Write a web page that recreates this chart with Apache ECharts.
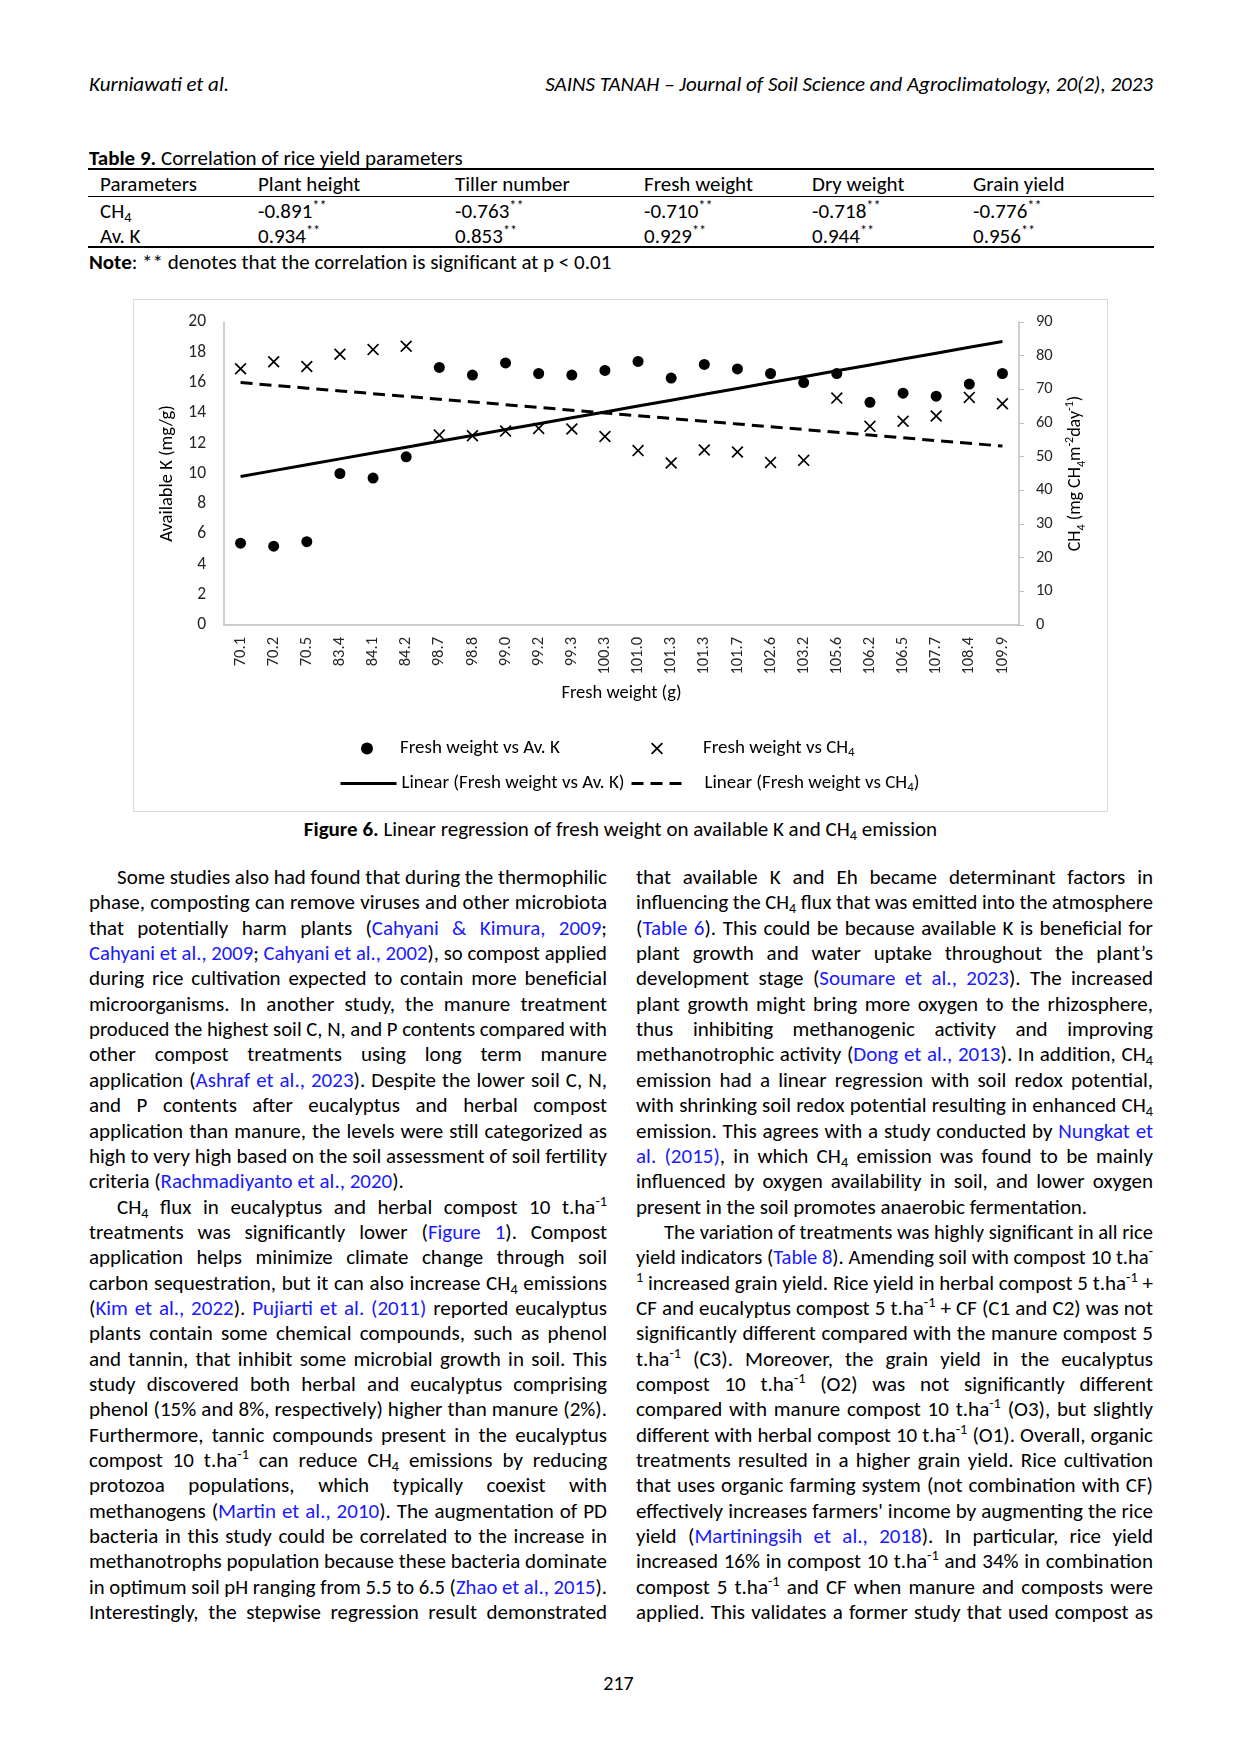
<!DOCTYPE html>
<html>
<head>
<meta charset="UTF-8">
<title>Figure 6 - fresh weight vs available K and CH4</title>
<script src="https://cdn.jsdelivr.net/npm/echarts@6.0.0/dist/echarts.min.js"></script>
<style>
  html, body { margin: 0; padding: 0; background: #fff; }
  body { width: 1241px; height: 1754px; position: relative; overflow: hidden;
         font-family: Carlito, Lato, 'Noto Sans', sans-serif; color: #000; }
  .abs { position: absolute; white-space: nowrap; }
  sub, sup { font-size: 0.68em; line-height: 0; }
  sub { vertical-align: -0.25em; }
  sup { vertical-align: 0.55em; }
  a { color: #1a1aff; text-decoration: none; }
  .head { top: 71px; font-size: 21px; font-style: italic; line-height: 26px; }
  .tbl { font-size: 21px; line-height: 24px; }
  .rule { position: absolute; left: 88px; width: 1066px; background: #000; }
  .line { position: absolute; height: 25px; line-height: 25px; font-size: 21px; white-space: nowrap; }
  .line span.t { display: inline-block; transform-origin: 0 50%; }
  #chart { position: absolute; left: 133px; top: 299px; width: 975px; height: 513px;
           border: 1px solid #d9d9d9; box-sizing: border-box; }
</style>
</head>
<body>

<div class="abs head" style="left:89px">Kurniawati et al.</div>
<div class="abs head" style="right:88px">SAINS TANAH &ndash; Journal of Soil Science and Agroclimatology, 20(2), 2023</div>

<div class="abs tbl" style="left:89px;top:146px"><b>Table 9.</b> Correlation of rice yield parameters</div>
<div class="rule" style="top:168px;height:2px"></div>
<div class="rule" style="top:196px;height:1px"></div>
<div class="rule" style="top:246px;height:2px"></div>
<div id="table"></div>
<div class="abs tbl" style="left:89px;top:250px"><b>Note</b>: ** denotes that the correlation is significant at p &lt; 0.01</div>

<div id="chart"></div>

<div class="abs" style="left:0;width:1241px;top:816px;text-align:center;font-size:21px;line-height:26px">
  <b>Figure 6.</b> Linear regression of fresh weight on available K and CH<sub>4</sub> emission</div>

<div id="text"></div>

<div class="abs" style="left:0;width:1237px;top:1670px;text-align:center;font-size:20px;line-height:26px">217</div>

<script>
  // ---- chart data ----
  var freshWeight = ['70.1', '70.2', '70.5', '83.4', '84.1', '84.2', '98.7', '98.8', '99.0', '99.2',
    '99.3', '100.3', '101.0', '101.3', '101.3', '101.7', '102.6', '103.2', '105.6', '106.2',
    '106.5', '107.7', '108.4', '109.9'];
  var availK = [5.4, 5.2, 5.5, 10.0, 9.7, 11.1, 17.0, 16.5, 17.3, 16.6, 16.5, 16.8,
    17.4, 16.3, 17.2, 16.9, 16.6, 16.0, 16.6, 14.7, 15.3, 15.1, 15.9, 16.6];
  var ch4 = [76.1, 78.2, 76.8, 80.4, 81.8, 82.8, 56.4, 56.2, 57.6, 58.4, 58.2, 56.0,
    51.8, 48.1, 52.0, 51.4, 48.3, 48.9, 67.4, 59.0, 60.5, 62.1, 67.6, 65.7];
  var kAxis = { min: 0, max: 20, interval: 2 };
  var ch4Axis = { min: 0, max: 90, interval: 10 };

  // ---- table 9 ----
  var tableHead = ['Parameters', 'Plant height', 'Tiller number', 'Fresh weight', 'Dry weight', 'Grain yield'];
  var tableRows = [
    ['CH<sub>4</sub>', '-0.891', '-0.763', '-0.710', '-0.718', '-0.776'],
    ['Av. K', '0.934', '0.853', '0.929', '0.944', '0.956']
  ];

  // excel style linear trendline over the category index
  function linearFit(ys) {
    var n = ys.length, mx = (n - 1) / 2, my = 0, sxy = 0, sxx = 0;
    ys.forEach(function (y) { my += y / n; });
    ys.forEach(function (y, i) { sxy += (i - mx) * (y - my); sxx += (i - mx) * (i - mx); });
    var b = sxy / sxx, a = my - b * mx;
    return ys.map(function (y, i) { return [i, a + b * i]; });
  }
  function pairs(ys) { return ys.map(function (y, i) { return [i, y]; }); }

  var cross = 'path://M0,10L10,0L50,40L90,0L100,10L60,50L100,90L90,100L50,60L10,100L0,90L40,50Z';
  var gray = '#bfbfbf', ink = '#262626';

  // one legend box per item so each sits where excel put it
  function legendAt(name, left, top, w, fmt, pad, isLine) {
    var l = {
      data: [name], left: left, top: top, itemWidth: w, itemHeight: 12,
      selectedMode: false, padding: 0, formatter: fmt,
      textStyle: { fontSize: 19, color: '#000', padding: [0, 0, 0, pad], rich: {
        a: { fontSize: 19, lineHeight: 22, color: '#000' },
        b: { fontSize: 13, color: '#000', verticalAlign: 'bottom' } } }
    };
    if (isLine) {
      l.itemStyle = { opacity: 0, color: 'rgba(0,0,0,0)', borderWidth: 0 };
      l.lineStyle = { width: 3, color: '#000' };
    }
    return l;
  }

  var option = {
    animation: false,
    textStyle: { fontFamily: 'Carlito, Lato, sans-serif' },
    grid: { left: 90, right: 88, top: 22, bottom: 186, containLabel: false, outerBoundsMode: 'none' },
    legend: [
      legendAt('Fresh weight vs Av. K', 227, 439, 12, '{a|{name}}', 22, false),
      legendAt('Fresh weight vs CH4', 517, 439, 12, '{a|Fresh weight vs CH}{b|4}', 35, false),
      legendAt('Linear (Fresh weight vs Av. K)', 205, 474, 56, '{a|{name}}', 0, true),
      legendAt('Linear (Fresh weight vs CH4)', 496, 474, 54, '{a|Linear (Fresh weight vs CH}{b|4}{a|)}', 14, true)
    ],
    xAxis: {
      type: 'category', data: freshWeight, boundaryGap: true,
      name: 'Fresh weight (g)', nameLocation: 'middle', nameGap: 59,
      nameTextStyle: { fontSize: 18.5, color: '#000' },
      axisLine: { lineStyle: { color: gray, width: 1.5 } },
      axisTick: { show: false },
      axisLabel: { rotate: 90, interval: 0, margin: 12, fontSize: 16.5, color: ink },
      splitLine: { show: false }
    },
    yAxis: [{
      type: 'value', position: 'left', min: kAxis.min, max: kAxis.max, interval: kAxis.interval,
      name: 'Available K (mg/g)', nameLocation: 'middle', nameGap: 41, nameRotate: 90,
      nameTextStyle: { fontSize: 18.5, color: '#000' },
      axisLine: { show: true, lineStyle: { color: gray, width: 1.5 } },
      axisTick: { show: false },
      axisLabel: { margin: 18, fontSize: 17.5, color: ink },
      splitLine: { show: false }
    }, {
      type: 'value', position: 'right', min: ch4Axis.min, max: ch4Axis.max, interval: ch4Axis.interval,
      name: '{n|CH}{s|4}{n| (mg CH}{s|4}{n|m}{p|-2}{n|day}{p|-1}{n|)}',
      nameLocation: 'middle', nameGap: 40, nameRotate: 90,
      nameTextStyle: { color: '#000', rich: {
        n: { fontSize: 18, lineHeight: 24, color: '#000' },
        s: { fontSize: 12, color: '#000', verticalAlign: 'bottom' },
        p: { fontSize: 12, color: '#000', verticalAlign: 'top' } } },
      axisLine: { show: true, lineStyle: { color: gray, width: 1.5 } },
      axisTick: { show: true, inside: false, length: 5, lineStyle: { color: gray } },
      axisLabel: { margin: 17, fontSize: 16.5, color: ink },
      splitLine: { show: false }
    }],
    series: [{
      name: 'Fresh weight vs Av. K', type: 'scatter', yAxisIndex: 0,
      symbol: 'circle', symbolSize: 11, symbolKeepAspect: true,
      itemStyle: { color: '#000', opacity: 1 },
      data: pairs(availK), z: 3
    }, {
      name: 'Fresh weight vs CH4', type: 'scatter', yAxisIndex: 1,
      symbol: cross, symbolSize: 12, symbolKeepAspect: true,
      itemStyle: { color: '#000', opacity: 1 },
      data: pairs(ch4), z: 3
    }, {
      name: 'Linear (Fresh weight vs Av. K)', type: 'line', yAxisIndex: 0,
      showSymbol: false, symbol: 'none',
      lineStyle: { color: '#000', width: 3 }, itemStyle: { color: '#000' },
      data: linearFit(availK), z: 2
    }, {
      name: 'Linear (Fresh weight vs CH4)', type: 'line', yAxisIndex: 1,
      showSymbol: false, symbol: 'none',
      lineStyle: { color: '#000', width: 3, type: [12, 7] }, itemStyle: { color: '#000' },
      data: linearFit(ch4), z: 2
    }]
  };
  echarts.init(document.getElementById('chart'), null, { renderer: 'canvas' }).setOption(option);

  // ---- table cells ----
  var colX = [100, 258, 455, 644, 812, 973];
  var rowY = [172, 199, 224];
  var th = '';
  tableHead.forEach(function (h, c) {
    th += '<div class="abs tbl" style="left:' + colX[c] + 'px;top:' + rowY[0] + 'px">' + h + '</div>';
  });
  tableRows.forEach(function (row, r) {
    row.forEach(function (v, c) {
      var txt = c === 0 ? v : v + '<sup>**</sup>';
      th += '<div class="abs tbl" style="left:' + colX[c] + 'px;top:' + rowY[r + 1] + 'px">' + txt + '</div>';
    });
  });
  document.getElementById('table').innerHTML = th;

  // ---- body text, one entry per printed line ('i' = indented, 'e' = paragraph end) ----
  var leftLines = [
    ['Some studies also had found that during the thermophilic', 'i'],
    ['phase, composting can remove viruses and other microbiota'],
    ['that potentially harm plants (<a>Cahyani &amp; Kimura, 2009</a>;'],
    ['<a>Cahyani et al., 2009</a>; <a>Cahyani et al., 2002</a>), so compost applied'],
    ['during rice cultivation expected to contain more beneficial'],
    ['microorganisms. In another study, the manure treatment'],
    ['produced the highest soil C, N, and P contents compared with'],
    ['other compost treatments using long term manure'],
    ['application (<a>Ashraf et al., 2023</a>). Despite the lower soil C, N,'],
    ['and P contents after eucalyptus and herbal compost'],
    ['application than manure, the levels were still categorized as'],
    ['high to very high based on the soil assessment of soil fertility'],
    ['criteria (<a>Rachmadiyanto et al., 2020</a>).', 'e'],
    ['CH<sub>4</sub> flux in eucalyptus and herbal compost 10 t.ha<sup>-1</sup>', 'i'],
    ['treatments was significantly lower (<a>Figure 1</a>). Compost'],
    ['application helps minimize climate change through soil'],
    ['carbon sequestration, but it can also increase CH<sub>4</sub> emissions'],
    ['(<a>Kim et al., 2022</a>). <a>Pujiarti et al. (2011)</a> reported eucalyptus'],
    ['plants contain some chemical compounds, such as phenol'],
    ['and tannin, that inhibit some microbial growth in soil. This'],
    ['study discovered both herbal and eucalyptus comprising'],
    ['phenol (15% and 8%, respectively) higher than manure (2%).'],
    ['Furthermore, tannic compounds present in the eucalyptus'],
    ['compost 10 t.ha<sup>-1</sup> can reduce CH<sub>4</sub> emissions by reducing'],
    ['protozoa populations, which typically coexist with'],
    ['methanogens (<a>Martin et al., 2010</a>). The augmentation of PD'],
    ['bacteria in this study could be correlated to the increase in'],
    ['methanotrophs population because these bacteria dominate'],
    ['in optimum soil pH ranging from 5.5 to 6.5 (<a>Zhao et al., 2015</a>).'],
    ['Interestingly, the stepwise regression result demonstrated']
  ];
  var rightLines = [
    ['that available K and Eh became determinant factors in'],
    ['influencing the CH<sub>4</sub> flux that was emitted into the atmosphere'],
    ['(<a>Table 6</a>). This could be because available K is beneficial for'],
    ['plant growth and water uptake throughout the plant\u2019s'],
    ['development stage (<a>Soumare et al., 2023</a>). The increased'],
    ['plant growth might bring more oxygen to the rhizosphere,'],
    ['thus inhibiting methanogenic activity and improving'],
    ['methanotrophic activity (<a>Dong et al., 2013</a>). In addition, CH<sub>4</sub>'],
    ['emission had a linear regression with soil redox potential,'],
    ['with shrinking soil redox potential resulting in enhanced CH<sub>4</sub>'],
    ['emission. This agrees with a study conducted by <a>Nungkat et</a>'],
    ['<a>al. (2015)</a>, in which CH<sub>4</sub> emission was found to be mainly'],
    ['influenced by oxygen availability in soil, and lower oxygen'],
    ['present in the soil promotes anaerobic fermentation.', 'e'],
    ['The variation of treatments was highly significant in all rice', 'i'],
    ['yield indicators (<a>Table 8</a>). Amending soil with compost 10 t.ha<sup>-</sup>'],
    ['<sup>1</sup> increased grain yield. Rice yield in herbal compost 5 t.ha<sup>-1</sup> +'],
    ['CF and eucalyptus compost 5 t.ha<sup>-1</sup> + CF (C1 and C2) was not'],
    ['significantly different compared with the manure compost 5'],
    ['t.ha<sup>-1</sup> (C3). Moreover, the grain yield in the eucalyptus'],
    ['compost 10 t.ha<sup>-1</sup> (O2) was not significantly different'],
    ['compared with manure compost 10 t.ha<sup>-1</sup> (O3), but slightly'],
    ['different with herbal compost 10 t.ha<sup>-1</sup> (O1). Overall, organic'],
    ['treatments resulted in a higher grain yield. Rice cultivation'],
    ['that uses organic farming system (not combination with CF)'],
    ['effectively increases farmers\' income by augmenting the rice'],
    ['yield (<a>Martiningsih et al., 2018</a>). In particular, rice yield'],
    ['increased 16% in compost 10 t.ha<sup>-1</sup> and 34% in combination'],
    ['compost 5 t.ha<sup>-1</sup> and CF when manure and composts were'],
    ['applied. This validates a former study that used compost as']
  ];

  var holder = document.getElementById('text');
  function layColumn(lines, x0, width) {
    lines.forEach(function (ln, i) {
      var indent = ln[1] === 'i' ? 28 : 0;
      var div = document.createElement('div');
      div.className = 'line';
      div.style.left = (x0 + indent) + 'px';
      div.style.top = Math.round(865 + i * 25.35) + 'px';
      div.style.width = (width - indent) + 'px';
      div.innerHTML = '<span class="t">' + ln[0] + '</span>';
      holder.appendChild(div);
      var span = div.firstChild, avail = width - indent, w = span.getBoundingClientRect().width;
      if (w > avail) {
        span.style.transform = 'scaleX(' + (avail / w).toFixed(4) + ')';
      } else if (ln[1] !== 'e') {
        var gaps = span.textContent.split(' ').length - 1;
        if (gaps > 0) span.style.wordSpacing = ((avail - w) / gaps).toFixed(2) + 'px';
      }
    });
  }
  layColumn(leftLines, 89, 518);
  layColumn(rightLines, 636, 517);
</script>
</body>
</html>
